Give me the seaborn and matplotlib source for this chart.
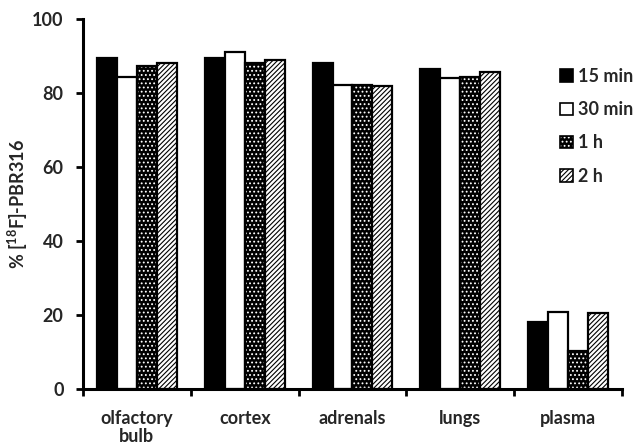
import matplotlib as mpl
mpl.use('agg')
import matplotlib.pyplot as plt
from matplotlib.patches import Patch
import numpy as np
import pandas as pd
import seaborn as sns

# data
tissues = ['olfactory\nbulb', 'cortex', 'adrenals', 'lungs', 'plasma']
times = ['15 min', '30 min', '1 h', '2 h']
v15min = [89.7, 89.7, 88.2, 86.6, 18.1]
v30min = [84.5, 91.1, 82.2, 84.1, 20.9]
v1h = [87.4, 88.3, 82.3, 84.5, 10.3]
v2h = [88.3, 89.0, 81.9, 85.7, 20.5]
yticks = [0, 20, 40, 60, 80, 100]

df = pd.DataFrame({
    'tissue': tissues * 4,
    'time': [t for t in times for _ in tissues],
    'value': v15min + v30min + v1h + v2h,
})

# style
sns.set_style('white')
plt.rcParams['font.family'] = ['Lato', 'DejaVu Sans']
plt.rcParams['mathtext.fontset'] = 'custom'
plt.rcParams['mathtext.rm'] = 'Lato:bold'
plt.rcParams['mathtext.default'] = 'regular'
plt.rcParams['hatch.linewidth'] = 0.8

faces = ['#000000', '#ffffff', '#000000', '#ffffff']
hatches = [None, None, '....', '///////']
hatch_colors = [None, None, '#ffffff', '#000000']

fig = plt.figure(figsize=(6.35, 4.46), dpi=100)
ax = fig.add_axes([0.1307, 0.1278, 0.8488, 0.8285])

sns.barplot(data=df, x='tissue', y='value', hue='time', order=tissues, hue_order=times,
            palette=faces, saturation=1, width=0.74, errorbar=None, edgecolor='#000',
            linewidth=1.6, legend=False, ax=ax)

# hatches
for cont, h, hc in zip(ax.containers, hatches, hatch_colors):
    for bar in cont:
        if h:
            bar.set_hatch(h)
            bar._hatch_color = mpl.colors.to_rgba(hc)

# axes
ax.set_xlim(-0.5, 4.5)
ax.set_ylim(0, 100)
ax.set_yticks(yticks)
ax.set_yticklabels([str(t) for t in yticks], fontsize=13, fontweight='bold')
ax.set_xticks(np.arange(-0.5, 5, 1.0))
ax.set_xticklabels([])
ax.set_xticks(np.arange(5), tissues, minor=True, fontsize=13, fontweight='bold', linespacing=1.05)
ax.tick_params(axis='x', which='minor', length=0, pad=15)
ax.tick_params(axis='x', which='major', direction='out', length=5, width=2, color='#000')
ax.tick_params(axis='y', direction='out', length=5, width=2, color='#000', pad=9)
ax.xaxis.set_ticks_position('bottom')
ax.yaxis.set_ticks_position('left')
sns.despine(ax=ax)
for s in ['left', 'bottom']:
    ax.spines[s].set_linewidth(2.2)
    ax.spines[s].set_color('#000')
ax.set_xlabel('')
ax.set_ylabel('% [$^{18}$F]-PBR316', fontsize=13, fontweight='bold')
ax.yaxis.set_label_coords(-0.099, 0.5)

# legend
handles = [Patch(facecolor=f, edgecolor='#000', linewidth=1.2, hatch=h, label=t)
           for f, h, t in zip(faces, hatches, times)]
leg = fig.legend(handles=handles, loc='upper left', bbox_to_anchor=(0.868, 0.868),
                 frameon=False, prop={'size': 13, 'weight': 'bold'}, handlelength=0.7,
                 handleheight=0.7, handletextpad=0.3, labelspacing=0.9, borderpad=0)
for p in leg.get_patches()[2:3]:
    p._hatch_color = mpl.colors.to_rgba('#ffffff')

fig.savefig('out.png', dpi=100)
